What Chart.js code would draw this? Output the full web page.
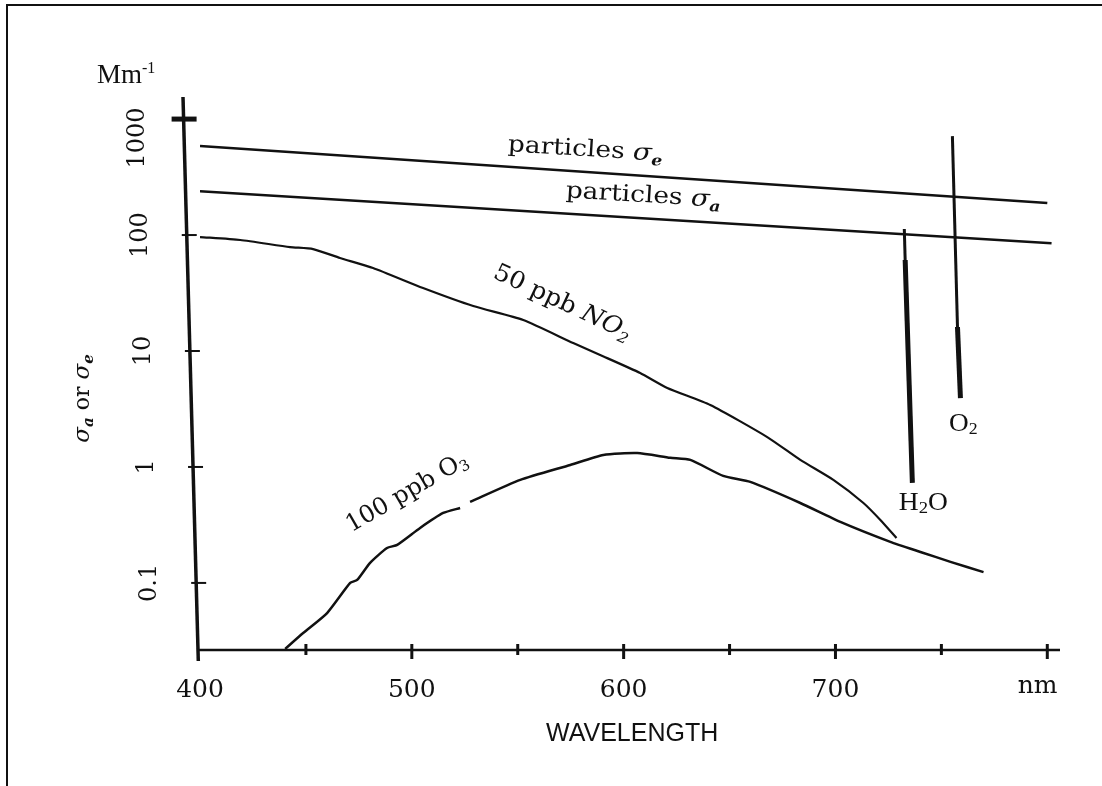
<!DOCTYPE html>
<html><head><meta charset="utf-8">
<script src="https://cdn.jsdelivr.net/npm/chart.js@4.4.0/dist/chart.umd.min.js"></script>
<style>html,body{margin:0;padding:0;background:#fff}canvas{display:block}</style>
</head><body>
<canvas id="c" width="1102" height="786"></canvas>
<script>
// ---- tick labels ----
const xTickLabels = [400, 500, 600, 700];
const xTickMarks = [450, 500, 550, 600, 650, 700, 750, 800];
const yTickValues = [1000, 100, 10, 1, 0.1];
const yTickLabels = ['1000', '100', '10', '1', '0.1'];

// ---- series (wavelength nm, coefficient Mm^-1) ----
const sigmaE_x = [400, 800];
const sigmaE_y = [585, 189];
const sigmaA_x = [400, 802];
const sigmaA_y = [239, 85];
const no2_x = [400, 419, 442.5, 453.4, 466.1, 481.7, 505.3, 529, 552.6, 576.2, 588.9, 607.8, 620.6, 640.9, 667.8, 683.4, 699, 713.2, 721.2, 728.8];
const no2_y = [96.1, 90.6, 78.8, 75.7, 63.4, 51.9, 34.9, 24.4, 18.5, 11.7, 9.24, 6.46, 4.80, 3.42, 1.81, 1.15, 0.773, 0.489, 0.349, 0.244];
const o3_x = [440.2, 448.7, 460.0, 470.9, 474.2, 480.3, 488.3, 493.1, 503.9, 514.8, 522.8, 525, 527.5, 551.2, 574.8, 590.4, 606.4, 622.0, 631.5, 647.0, 659.8, 683.4, 702.3, 725.9, 740.1, 754.3, 769.9];
const o3_y = [0.027, 0.037, 0.055, 0.1, 0.106, 0.149, 0.200, 0.213, 0.298, 0.401, 0.443, null, 0.499, 0.773, 1.04, 1.27, 1.32, 1.20, 1.15, 0.837, 0.743, 0.489, 0.336, 0.226, 0.185, 0.152, 0.124];
const h2oTop_x = [732.5, 732.9];
const h2oTop_y = [112.6, 60.9];
const h2oLow_x = [732.9, 736.3];
const h2oLow_y = [60.9, 0.728];
const o2Top_x = [755.2, 757.6];
const o2Top_y = [713, 16.1];
const o2Low_x = [757.6, 759.0];
const o2Low_y = [16.1, 3.93];

function mk(xs, ys, w, t) {
  return {
    data: xs.map((x, i) => ({ x: x, y: ys[i] })),
    borderColor: '#111', borderWidth: w, pointRadius: 0,
    tension: t || 0, fill: false, spanGaps: false, borderCapStyle: 'butt'
  };
}

function rich(ctx, segs, x, y, ang, sx) {
  ctx.save();
  ctx.translate(x, y);
  ctx.rotate(ang * Math.PI / 180);
  ctx.scale(sx || 1, 1);
  let total = 0;
  segs.forEach(s => { ctx.font = s.f; s.w = ctx.measureText(s.t).width; total += s.w; });
  let cx = -total / 2;
  ctx.textBaseline = 'middle';
  ctx.textAlign = 'left';
  ctx.fillStyle = '#111';
  segs.forEach(s => { ctx.font = s.f; ctx.fillText(s.t, cx, s.dy || 0); cx += s.w; });
  ctx.restore();
}

const SERIF = '"DejaVu Serif", serif';
const TIMES = '"Liberation Serif", "Times New Roman", serif';

const overlay = {
  id: 'overlay',
  afterDraw(chart) {
    const ctx = chart.ctx, a = chart.chartArea;
    const xs = chart.scales.x, ys = chart.scales.y;
    const P = (nm, v) => ({ x: xs.getPixelForValue(nm), y: ys.getPixelForValue(v) });
    ctx.save();
    ctx.strokeStyle = '#111';
    ctx.lineCap = 'butt';
    // frame
    ctx.lineWidth = 2;
    ctx.beginPath();
    ctx.moveTo(7, 786); ctx.lineTo(7, 5); ctx.lineTo(1102, 5);
    ctx.stroke();

    // slanted y axis (scanned)
    const axX = py => a.left - 17 + (py - a.top) * (15 / (a.bottom - a.top));
    ctx.lineWidth = 3.5;
    ctx.beginPath();
    ctx.moveTo(axX(a.top), a.top);
    ctx.lineTo(axX(a.bottom + 11), a.bottom + 11);
    ctx.stroke();
    // y ticks
    yTickValues.forEach((v, i) => {
      const py = ys.getPixelForValue(v);
      const ax = axX(py);
      ctx.lineWidth = i === 0 ? 5 : 2;
      ctx.beginPath();
      if (i === 0) { ctx.moveTo(ax - 12, py); ctx.lineTo(ax + 13, py); }
      else { ctx.moveTo(ax - 5, py); ctx.lineTo(ax + 10, py); }
      ctx.stroke();
      rich(ctx, [{ t: yTickLabels[i], f: '24px ' + SERIF }], ax - 46, py + (i === 0 ? 19 : 0), -90, 1);
    });

    // x axis
    ctx.lineWidth = 2.5;
    ctx.beginPath();
    ctx.moveTo(axX(a.bottom), a.bottom);
    ctx.lineTo(a.right, a.bottom);
    ctx.stroke();
    ctx.lineWidth = 3;
    xTickMarks.forEach(v => {
      const px = xs.getPixelForValue(v);
      const big = (v % 100 === 0);
      ctx.beginPath();
      ctx.moveTo(px, a.bottom - 6);
      ctx.lineTo(px, a.bottom + (big ? 9 : 5));
      ctx.stroke();
    });
    xTickLabels.forEach(v => {
      rich(ctx, [{ t: String(v), f: '25px ' + SERIF }], xs.getPixelForValue(v), a.bottom + 40, 0, 1);
    });
    rich(ctx, [{ t: 'nm', f: '25px ' + SERIF }], xs.getPixelForValue(795.4), a.bottom + 36, 0, 1);
    rich(ctx, [{ t: 'WAVELENGTH', f: '25px "Liberation Sans", Arial, sans-serif' }], xs.getPixelForValue(604), a.bottom + 84, 0, 1);

    // unit
    ctx.save();
    ctx.fillStyle = '#111';
    ctx.textBaseline = 'alphabetic';
    ctx.font = '27px ' + TIMES;
    ctx.fillText('Mm', a.left - 103, a.top - 14);
    const mw = ctx.measureText('Mm').width;
    ctx.font = '16px ' + TIMES;
    ctx.fillText('-1', a.left - 103 + mw, a.top - 24);
    ctx.restore();

    // y title
    const yt = P(400, 3.9);
    rich(ctx, [
      { t: 'σ', f: 'italic 23px ' + SERIF },
      { t: 'a', f: 'italic bold 15px ' + SERIF, dy: 6 },
      { t: ' or ', f: '22px ' + SERIF },
      { t: 'σ', f: 'italic 23px ' + SERIF },
      { t: 'e', f: 'italic bold 15px ' + SERIF, dy: 6 }
    ], a.left - 117, yt.y, -90, 1);

    // curve labels
    let p = P(581.9, 541);
    rich(ctx, [
      { t: 'particles ', f: '23px ' + SERIF },
      { t: 'σ', f: 'italic 24px ' + SERIF },
      { t: 'e', f: 'italic bold 15px ' + SERIF, dy: 7 }
    ], p.x, p.y, 3.6, 1.15);
    p = P(609.3, 217);
    rich(ctx, [
      { t: 'particles ', f: '23px ' + SERIF },
      { t: 'σ', f: 'italic 24px ' + SERIF },
      { t: 'a', f: 'italic bold 15px ' + SERIF, dy: 7 }
    ], p.x, p.y, 3.5, 1.15);
    p = P(571, 25.9);
    rich(ctx, [
      { t: '50 ppb ', f: '24px ' + SERIF },
      { t: 'NO', f: 'italic 24px ' + SERIF },
      { t: '2', f: 'italic 15px ' + SERIF, dy: 7 }
    ], p.x, p.y, 25, 1.05);
    p = P(497.8, 0.597);
    rich(ctx, [
      { t: '100 ppb O', f: '24px ' + SERIF },
      { t: '3', f: '15px ' + SERIF, dy: 6 }
    ], p.x, p.y, -30, 1.0);
    p = P(741.5, 0.48);
    rich(ctx, [
      { t: 'H', f: '25px ' + TIMES },
      { t: '2', f: '17px ' + TIMES, dy: 5 },
      { t: 'O', f: '25px ' + TIMES }
    ], p.x, p.y, 0, 1.1);
    p = P(760.4, 2.35);
    rich(ctx, [
      { t: 'O', f: '26px ' + TIMES },
      { t: '2', f: '17px ' + TIMES, dy: 6 }
    ], p.x, p.y, 0, 1.05);
    ctx.restore();
  }
};

new Chart(document.getElementById('c'), {
  type: 'line',
  data: {
    datasets: [
      mk(sigmaE_x, sigmaE_y, 2.5),
      mk(sigmaA_x, sigmaA_y, 2.5),
      mk(no2_x, no2_y, 2.2, 0.2),
      mk(o3_x, o3_y, 2.5, 0.2),
      mk(h2oTop_x, h2oTop_y, 3),
      mk(h2oLow_x, h2oLow_y, 5),
      mk(o2Top_x, o2Top_y, 3),
      mk(o2Low_x, o2Low_y, 5)
    ]
  },
  options: {
    responsive: false,
    animation: false,
    layout: { padding: { left: 200, right: 42, top: 97, bottom: 136 } },
    plugins: { legend: { display: false }, tooltip: { enabled: false } },
    scales: {
      x: { type: 'linear', min: 400, max: 806, display: false },
      y: { type: 'logarithmic', min: 0.0264, max: 1550, display: false }
    }
  },
  plugins: [overlay]
});
</script>
</body></html>
